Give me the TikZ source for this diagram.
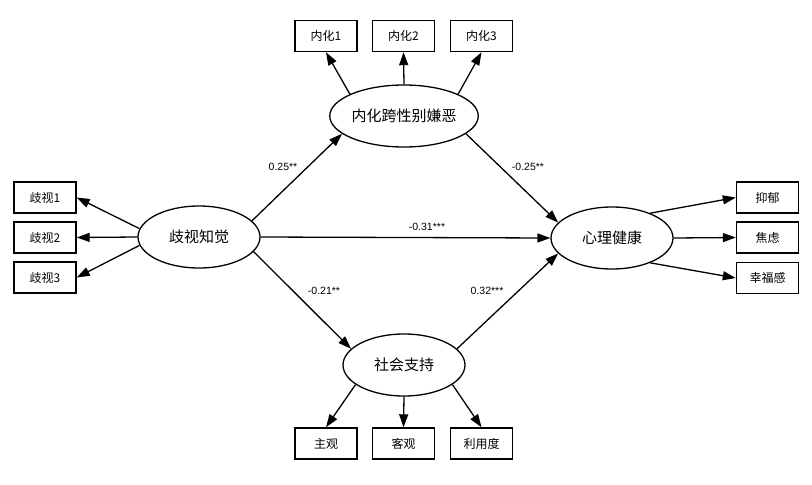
\documentclass[tikz,border=0pt]{standalone}
\usepackage{fontspec}
\setmainfont{Liberation Sans}
\newfontfamily\cjk{Noto Sans CJK SC}
\usetikzlibrary{shapes.geometric,arrows.meta}
\begin{document}
\begin{tikzpicture}[x=1pt,y=-1pt,
 lat/.style={draw, ellipse, line width=1.3pt, minimum width=122pt, minimum height=62pt, inner sep=0pt, font=\cjk\fontsize{15}{15}\selectfont},
 obs/.style={draw, rectangle, line width=1.4pt, minimum width=62pt, minimum height=31pt, inner sep=0pt, font=\cjk\fontsize{12}{12}\selectfont},
 arr/.style={line width=1.3pt, -{Triangle[length=13pt,width=9pt]}},
 coef/.style={font=\fontsize{10.5}{10.5}\selectfont, inner sep=0pt}]
\useasboundingbox[fill=white] (0,0) rectangle (812,485);
% latent variables
\node[lat] (int) at (404,116) {内化跨性别嫌恶};
\node[lat] (disc) at (199,237) {歧视知觉};
\node[lat] (mh) at (612,238) {心理健康};
\node[lat] (soc) at (404,365) {社会支持};
% indicators
\node[obs] (i1) at (326,36) {内化1};
\node[obs] (i2) at (403.5,36) {内化2};
\node[obs] (i3) at (481.5,36) {内化3};
\node[obs] (d1) at (45,197.5) {歧视1};
\node[obs] (d2) at (45,237.5) {歧视2};
\node[obs] (d3) at (45,277.5) {歧视3};
\node[obs] (m1) at (767.5,197.5) {抑郁};
\node[obs] (m2) at (767.5,237.5) {焦虑};
\node[obs] (m3) at (767.5,278) {幸福感};
\node[obs] (s1) at (326,443.5) {主观};
\node[obs] (s2) at (403.5,443.5) {客观};
\node[obs] (s3) at (481.5,443.5) {利用度};
% measurement arrows
\draw[arr] (int.158) -- (i1.south);
\draw[arr] (int.north) -- (i2.south);
\draw[arr] (int.22) -- (i3.south);
\draw[arr] (disc.172) -- (d1.east);
\draw[arr] (disc.west) -- (d2.east);
\draw[arr] (disc.188) -- (d3.east);
\draw[arr] (mh.33) -- (m1.west);
\draw[arr] (mh.east) -- (m2.west);
\draw[arr] (mh.-33) -- (m3.west);
\draw[arr] (soc.202) -- (s1.north);
\draw[arr] (soc.south) -- (s2.north);
\draw[arr] (soc.338) -- (s3.north);
% structural paths
\draw[arr] (disc.17) -- (int.196);
\draw[arr] (int.-16) -- (mh.164);
\draw[arr] (disc.east) -- (mh.west);
\draw[arr] (disc.-15) -- (soc.163);
\draw[arr] (soc.17) -- (mh.196);
% coefficients
\node[coef] (c1) at (283,167) {0.25**};
\node[coef] (c2) at (528,167) {-0.25**};
\node[coef] (c3) at (427,227) {-0.31***};
\node[coef] (c4) at (324,291) {-0.21**};
\node[coef] (c5) at (487,291) {0.32***};
\end{tikzpicture}
\end{document}
